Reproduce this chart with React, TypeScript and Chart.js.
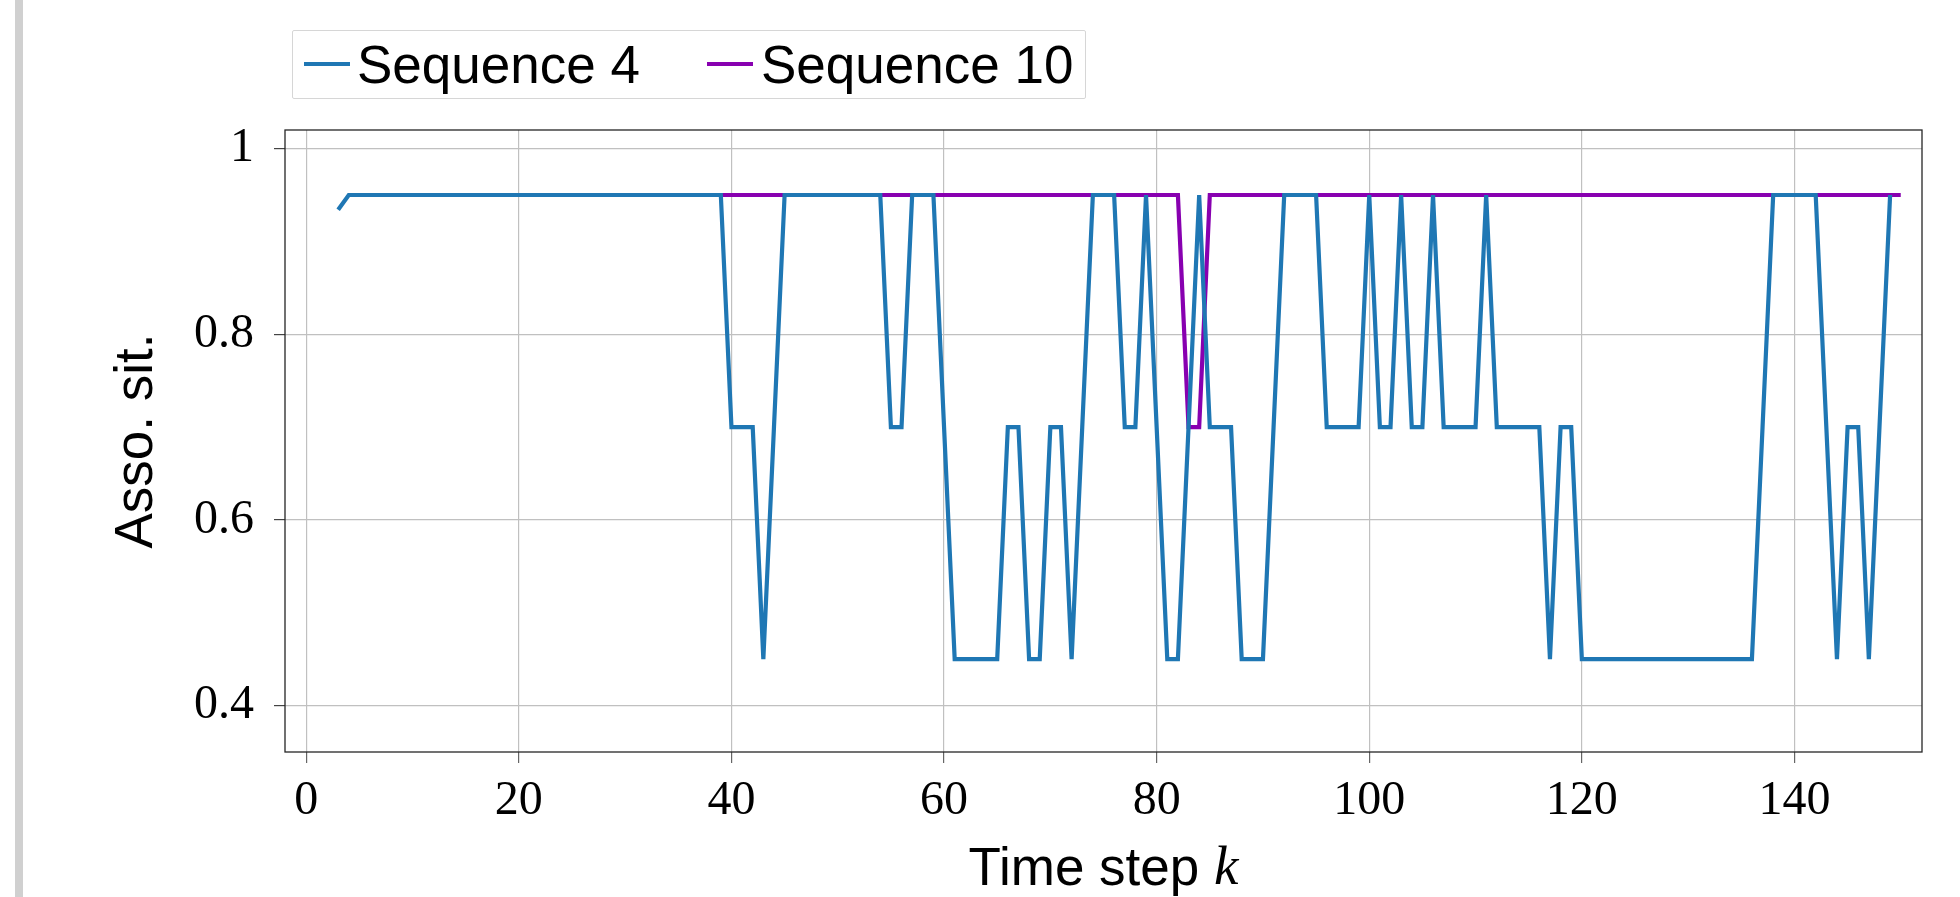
import React, { useEffect, useRef } from 'react';
import { Chart, registerables } from 'chart.js';

Chart.register(...registerables);

// ---- data ----
const seriesNames = ['Sequence 4', 'Sequence 10'];
const seriesColors = ['#1f77b4', '#8800b0'];

const seq4Start = 3; // first time step of Sequence 4
const seq4Values = [
  0.934, 0.95, 0.95, 0.95, 0.95, 0.95, 0.95, // k 3-9
  0.95, 0.95, 0.95, 0.95, 0.95, 0.95, 0.95, 0.95, 0.95, 0.95, // k 10-19
  0.95, 0.95, 0.95, 0.95, 0.95, 0.95, 0.95, 0.95, 0.95, 0.95, // k 20-29
  0.95, 0.95, 0.95, 0.95, 0.95, 0.95, 0.95, 0.95, 0.95, 0.95, // k 30-39
  0.7, 0.7, 0.7, 0.45, 0.7, 0.95, 0.95, 0.95, 0.95, 0.95, // k 40-49
  0.95, 0.95, 0.95, 0.95, 0.95, 0.7, 0.7, 0.95, 0.95, 0.95, // k 50-59
  0.7, 0.45, 0.45, 0.45, 0.45, 0.45, 0.7, 0.7, 0.45, 0.45, // k 60-69
  0.7, 0.7, 0.45, 0.7, 0.95, 0.95, 0.95, 0.7, 0.7, 0.95, // k 70-79
  0.7, 0.45, 0.45, 0.7, 0.95, 0.7, 0.7, 0.7, 0.45, 0.45, // k 80-89
  0.45, 0.7, 0.95, 0.95, 0.95, 0.95, 0.7, 0.7, 0.7, 0.7, // k 90-99
  0.95, 0.7, 0.7, 0.95, 0.7, 0.7, 0.95, 0.7, 0.7, 0.7, // k 100-109
  0.7, 0.95, 0.7, 0.7, 0.7, 0.7, 0.7, 0.45, 0.7, 0.7, // k 110-119
  0.45, 0.45, 0.45, 0.45, 0.45, 0.45, 0.45, 0.45, 0.45, 0.45, // k 120-129
  0.45, 0.45, 0.45, 0.45, 0.45, 0.45, 0.45, 0.7, 0.95, 0.95, // k 130-139
  0.95, 0.95, 0.95, 0.7, 0.45, 0.7, 0.7, 0.45, 0.7, 0.95, // k 140-149
];

const seq10Start = 4; // first time step of Sequence 10
const seq10Values = [
  0.95, 0.95, 0.95, 0.95, 0.95, 0.95, // k 4-9
  0.95, 0.95, 0.95, 0.95, 0.95, 0.95, 0.95, 0.95, 0.95, 0.95, // k 10-19
  0.95, 0.95, 0.95, 0.95, 0.95, 0.95, 0.95, 0.95, 0.95, 0.95, // k 20-29
  0.95, 0.95, 0.95, 0.95, 0.95, 0.95, 0.95, 0.95, 0.95, 0.95, // k 30-39
  0.95, 0.95, 0.95, 0.95, 0.95, 0.95, 0.95, 0.95, 0.95, 0.95, // k 40-49
  0.95, 0.95, 0.95, 0.95, 0.95, 0.95, 0.95, 0.95, 0.95, 0.95, // k 50-59
  0.95, 0.95, 0.95, 0.95, 0.95, 0.95, 0.95, 0.95, 0.95, 0.95, // k 60-69
  0.95, 0.95, 0.95, 0.95, 0.95, 0.95, 0.95, 0.95, 0.95, 0.95, // k 70-79
  0.95, 0.95, 0.95, 0.7, 0.7, 0.95, 0.95, 0.95, 0.95, 0.95, // k 80-89
  0.95, 0.95, 0.95, 0.95, 0.95, 0.95, 0.95, 0.95, 0.95, 0.95, // k 90-99
  0.95, 0.95, 0.95, 0.95, 0.95, 0.95, 0.95, 0.95, 0.95, 0.95, // k 100-109
  0.95, 0.95, 0.95, 0.95, 0.95, 0.95, 0.95, 0.95, 0.95, 0.95, // k 110-119
  0.95, 0.95, 0.95, 0.95, 0.95, 0.95, 0.95, 0.95, 0.95, 0.95, // k 120-129
  0.95, 0.95, 0.95, 0.95, 0.95, 0.95, 0.95, 0.95, 0.95, 0.95, // k 130-139
  0.95, 0.95, 0.95, 0.95, 0.95, 0.95, 0.95, 0.95, 0.95, 0.95, // k 140-149
  0.95, // k 150
];

const xTicks = [0, 20, 40, 60, 80, 100, 120, 140];
const xTickLabels = ['0', '20', '40', '60', '80', '100', '120', '140'];
const yTicks = [0.4, 0.6, 0.8, 1];
const yTickLabels = ['0.4', '0.6', '0.8', '1'];
const xRange = [-2, 152];
const yRange = [0.35, 1.02];
const xTitleText = 'Time step ';
const xTitleVar = 'k';
const yTitle = 'Asso. sit.';

// ---- styling ----
const W = 1960;
const H = 897;
const SANS = "'Liberation Sans', Arial, Helvetica, sans-serif";
const SERIF = "'Liberation Serif', 'Times New Roman', serif";
const TITLE_SIZE = 53;
const TICK_SIZE = 48;

const framePlugin = {
  id: 'frameBox',
  afterDatasetsDraw(chart: any) {
    const { ctx, chartArea } = chart;
    const { left, top, right, bottom } = chartArea;
    ctx.save();
    ctx.strokeStyle = '#262626';
    ctx.lineWidth = 1.3;
    ctx.strokeRect(left, top, right - left, bottom - top);
    ctx.restore();
  },
};

// x-axis title: upright sans words followed by an italic math variable
const xTitlePlugin = {
  id: 'xTitleMixed',
  afterDraw(chart: any) {
    const { ctx, chartArea } = chart;
    const cx = (chartArea.left + chartArea.right) / 2;
    const cy = 870;
    ctx.save();
    ctx.fillStyle = '#000';
    ctx.textBaseline = 'middle';
    ctx.textAlign = 'left';
    const fMain = `${TITLE_SIZE}px ${SANS}`;
    const fVar = `italic ${TITLE_SIZE + 2}px ${SERIF}`;
    ctx.font = fMain;
    const w1 = ctx.measureText(xTitleText).width;
    ctx.font = fVar;
    const w2 = ctx.measureText(xTitleVar).width;
    const x0 = cx - (w1 + w2) / 2;
    ctx.font = fMain;
    ctx.fillText(xTitleText, x0, cy);
    ctx.font = fVar;
    ctx.fillText(xTitleVar, x0 + w1, cy);
    ctx.restore();
  },
};

export default function App() {
  const canvasRef = useRef<HTMLCanvasElement | null>(null);

  useEffect(() => {
    const canvas = canvasRef.current;
    if (!canvas) return;
    const toPoints = (start: number, vals: number[]) =>
      vals.map((v, i) => ({ x: start + i, y: v }));

    const chart = new Chart(canvas, {
      type: 'line',
      data: {
        datasets: [
          {
            label: seriesNames[0],
            data: toPoints(seq4Start, seq4Values),
            borderColor: seriesColors[0],
            backgroundColor: seriesColors[0],
            borderWidth: 4.2,
            pointRadius: 0,
            tension: 0,
            fill: false,
          },
          {
            label: seriesNames[1],
            data: toPoints(seq10Start, seq10Values),
            borderColor: seriesColors[1],
            backgroundColor: seriesColors[1],
            borderWidth: 4.2,
            pointRadius: 0,
            tension: 0,
            fill: false,
          },
        ],
      },
      options: {
        responsive: false,
        animation: false,
        devicePixelRatio: 1,
        layout: { padding: { left: 0, right: 38, top: 130, bottom: 0 } },
        plugins: {
          legend: { display: false },
          tooltip: { enabled: false },
        },
        scales: {
          x: {
            type: 'linear',
            min: xRange[0],
            max: xRange[1],
            afterBuildTicks: (scale: any) => {
              scale.ticks = xTicks.map((v) => ({ value: v }));
            },
            afterFit: (scale: any) => {
              scale.height = H - 752;
            },
            ticks: {
              callback: (_v: any, i: number) => xTickLabels[i],
              font: { family: SERIF, size: TICK_SIZE, lineHeight: 1.2 },
              color: '#000',
              padding: 10,
              maxRotation: 0,
              autoSkip: false,
            },
            grid: {
              color: '#c0c0c0',
              lineWidth: 1.2,
              drawTicks: true,
              tickLength: 11,
              tickColor: '#666',
            },
            border: { display: false },
            title: { display: false },
          },
          y: {
            type: 'linear',
            min: yRange[0],
            max: yRange[1],
            afterBuildTicks: (scale: any) => {
              scale.ticks = yTicks.map((v) => ({ value: v }));
            },
            afterFit: (scale: any) => {
              scale.width = 285;
            },
            ticks: {
              callback: (_v: any, i: number) => yTickLabels[i],
              font: { family: SERIF, size: TICK_SIZE, lineHeight: 1.2 },
              color: '#000',
              padding: 20,
            },
            grid: {
              color: '#c0c0c0',
              lineWidth: 1.2,
              drawTicks: true,
              tickLength: 11,
              tickColor: '#444',
            },
            border: { display: false },
            title: {
              display: true,
              text: yTitle,
              color: '#000',
              font: { family: SANS, size: TITLE_SIZE, lineHeight: 1 },
              padding: { top: 111, bottom: 0 },
            },
          },
        },
      },
      plugins: [framePlugin, xTitlePlugin],
    });

    return () => {
      chart.destroy();
    };
  }, []);

  const legendLeft = [304, 707];
  const textLeft = [357, 761];

  return (
    <div
      style={{
        position: 'fixed',
        left: 0,
        top: 0,
        width: W,
        height: H,
        background: '#fff',
        overflow: 'hidden',
      }}
    >
      <div
        style={{
          position: 'absolute',
          left: 15,
          top: 0,
          width: 8,
          height: H,
          background: '#d0d0d0',
        }}
      />
      <canvas
        ref={canvasRef}
        width={W}
        height={H}
        style={{ position: 'absolute', left: 0, top: 0, width: W, height: H }}
      />
      <div
        style={{
          position: 'absolute',
          left: 292,
          top: 30,
          width: 794,
          height: 69,
          boxSizing: 'border-box',
          border: '1.3px solid #d6d6d6',
          borderRadius: 2,
          background: 'rgba(255,255,255,0.8)',
        }}
      />
      {seriesNames.map((name, i) => (
        <React.Fragment key={name}>
          <div
            style={{
              position: 'absolute',
              left: legendLeft[i],
              top: 62,
              width: 46,
              height: 4,
              background: seriesColors[i],
            }}
          />
          <div
            style={{
              position: 'absolute',
              left: textLeft[i],
              top: 30,
              height: 69,
              display: 'flex',
              alignItems: 'center',
              fontFamily: SANS,
              fontSize: TITLE_SIZE,
              color: '#000',
              whiteSpace: 'nowrap',
            }}
          >
            {name}
          </div>
        </React.Fragment>
      ))}
    </div>
  );
}
